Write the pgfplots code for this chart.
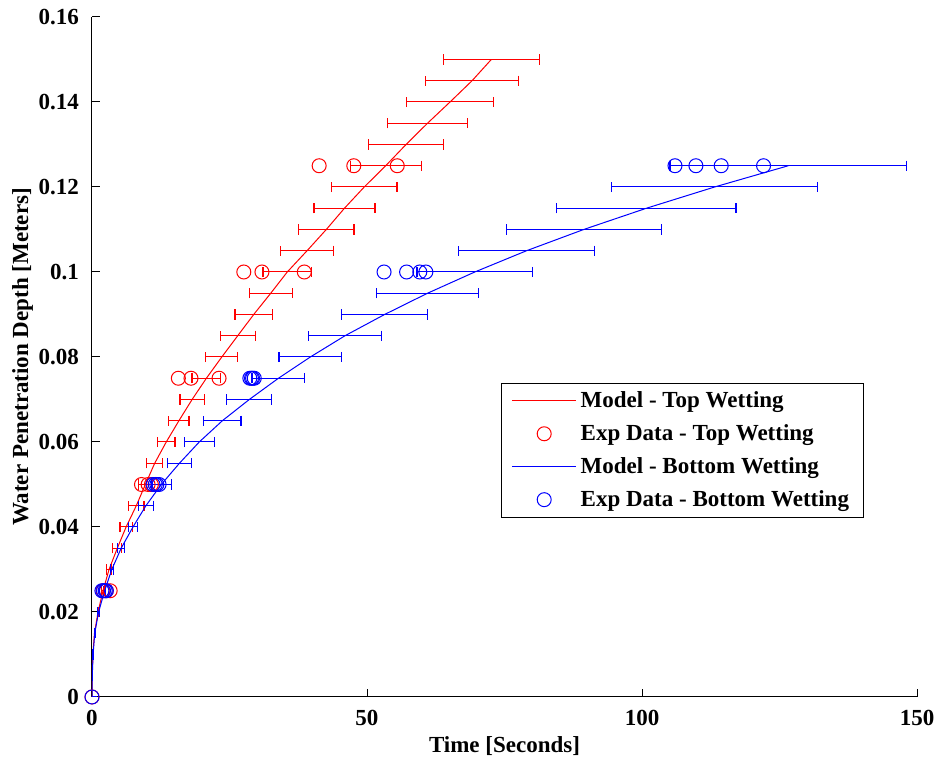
\documentclass[border=0pt]{standalone}
\usepackage{fontspec}
\setmainfont{Liberation Serif}
\usepackage{pgfplots}
\pgfplotsset{compat=1.18}
\newcommand{\lblfont}{\fontsize{11.5}{13}\selectfont\bfseries}
\begin{document}
\begin{tikzpicture}
\begin{axis}[
  scale only axis, width=412.5pt, height=340pt,
  xmin=0, xmax=150, ymin=0, ymax=0.16,
  axis lines*=left,
  axis line style={line width=0.5pt},
  xtick={0,50,100,150},
  ytick={0,0.02,0.04,0.06,0.08,0.1,0.12,0.14,0.16},
  yticklabels={0,0.02,0.04,0.06,0.08,0.1,0.12,0.14,0.16},
  scaled y ticks=false,
  tick align=inside,
  major tick length=4pt,
  tick style={line width=0.5pt, black},
  /pgf/number format/assume math mode=true,
  ticklabel style={font=\lblfont},
  yticklabel style={xshift=-3pt},
  xticklabel style={yshift=-3pt},
  xlabel={Time [Seconds]},
  ylabel={Water Penetration Depth [Meters]},
  xlabel style={yshift=1.5pt},
  ylabel style={yshift=-4pt},
  label style={font=\lblfont},
  legend image code/.code={\draw[mark repeat=2,mark phase=2,#1] plot coordinates {(0pt,0pt) (16pt,0pt) (32pt,0pt)};},
  legend style={at={(rel axis cs:0.496,0.462)}, anchor=north west, draw=black, line width=0.5pt,
    font=\lblfont, cells={anchor=west}, row sep=3pt, inner xsep=5pt, inner ysep=2pt},
]
% Model - Top Wetting (with horizontal error bars)
\addplot[red, line width=0.5pt, mark=none,
  error bars/.cd, x dir=both, x explicit,
  error bar style={red, line width=0.5pt},
  error mark=|,
  error mark options={draw=red, color=red, mark size=2.6pt, line width=0.6pt}]
  table[x=x, y=y, x error=ex] {
x y ex
0 0 0
0.03 0.005 0.005
0.15 0.01 0.02
0.45 0.015 0.05
1.1 0.02 0.12
2.0 0.025 0.25
3.1 0.03 0.45
4.6 0.035 0.8
6.2 0.04 1.1
8.05 0.045 1.4
9.7 0.05 1.3
11.4 0.055 1.45
13.5 0.06 1.6
15.8 0.065 1.85
18.2 0.07 2.2
20.8 0.075 2.6
23.6 0.08 2.9
26.5 0.085 3.2
29.4 0.09 3.4
32.5 0.095 3.9
35.5 0.1 4.4
39.1 0.105 4.8
42.6 0.11 5.05
45.9 0.115 5.55
49.5 0.12 5.95
53.4 0.125 6.45
57.1 0.13 6.85
61.0 0.135 7.3
65.1 0.14 7.9
69.1 0.145 8.45
72.6 0.15 8.7
};
\addlegendentry{Model - Top Wetting}
% Exp Data - Top Wetting
\addplot[red, only marks, mark=o, mark size=3.5pt, line width=0.5pt]
  table[x=x, y=y] {
x y
0 0
2.0 0.025
2.6 0.025
3.3 0.025
9.0 0.05
10.2 0.05
10.8 0.05
15.7 0.075
18.0 0.075
23.1 0.075
27.6 0.1
30.9 0.1
38.6 0.1
41.3 0.125
47.6 0.125
55.5 0.125
};
\addlegendentry{Exp Data - Top Wetting}
% Model - Bottom Wetting
\addplot[blue, line width=0.5pt, mark=none,
  error bars/.cd, x dir=both, x explicit,
  error bar style={blue, line width=0.5pt},
  error mark=|,
  error mark options={draw=blue, color=blue, mark size=2.6pt, line width=0.6pt}]
  table[x=x, y=y, x error=ex] {
x y ex
0 0 0
0.05 0.005 0.01
0.2 0.01 0.03
0.5 0.015 0.08
1.2 0.02 0.15
2.3 0.025 0.2
3.6 0.03 0.3
5.3 0.035 0.65
7.45 0.04 0.85
9.8 0.045 1.35
12.6 0.05 1.8
15.9 0.055 2.2
19.5 0.06 2.7
23.7 0.065 3.4
28.6 0.07 4.1
33.9 0.075 4.8
39.7 0.08 5.7
46.0 0.085 6.7
53.2 0.09 7.8
61.0 0.095 9.2
69.6 0.1 10.5
79.0 0.105 12.3
89.4 0.11 14.1
100.8 0.115 16.3
113.2 0.12 18.7
126.6 0.125 21.5
};
\addlegendentry{Model - Bottom Wetting}
% Exp Data - Bottom Wetting
\addplot[blue, only marks, mark=o, mark size=3.5pt, line width=0.5pt]
  table[x=x, y=y] {
x y
0 0
1.8 0.025
2.1 0.025
2.4 0.025
2.6 0.025
11.1 0.05
11.5 0.05
11.8 0.05
12.2 0.05
28.7 0.075
29.0 0.075
29.2 0.075
29.5 0.075
53.1 0.1
57.2 0.1
59.6 0.1
60.7 0.1
106.0 0.125
109.8 0.125
114.4 0.125
122.1 0.125
};
\addlegendentry{Exp Data - Bottom Wetting}
\end{axis}
\pgfresetboundingbox
\path[use as bounding box] ([shift={(-46pt,-31pt)}]current axis.south west) rectangle ([shift={(11pt,8.5pt)}]current axis.north east);
\end{tikzpicture}
\end{document}
